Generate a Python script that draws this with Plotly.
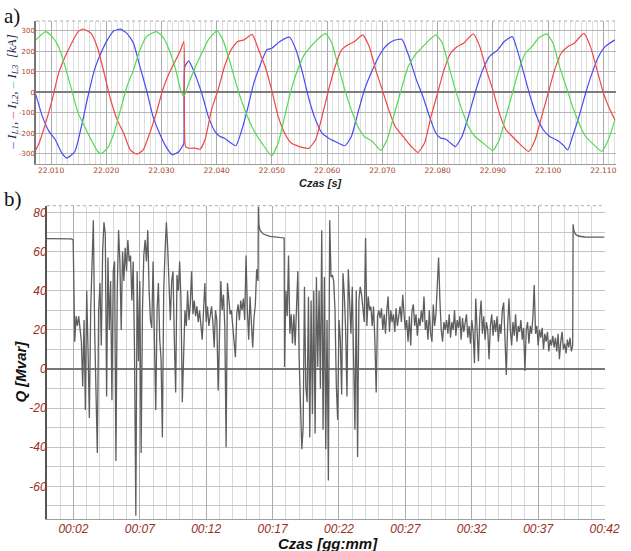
import numpy as np
import plotly.graph_objects as go

# ---------------- a) phase currents [kA] ----------------
t_l1 = [22.00726, 22.00843, 22.00961, 22.01078, 22.01197, 22.01285, 22.01432, 22.0155, 22.01668,
        22.01786, 22.01903, 22.02021, 22.02139, 22.02257, 22.02375, 22.02493, 22.0261, 22.02728,
        22.02846, 22.02964, 22.03081, 22.03199, 22.03317, 22.03376, 22.03405, 22.03423, 22.03494,
        22.03582, 22.03729, 22.03847, 22.03965, 22.04053, 22.04141, 22.04259, 22.04348, 22.04436,
        22.04554, 22.04671, 22.04789, 22.04907, 22.04995, 22.05143, 22.05319, 22.05437, 22.05555,
        22.05673, 22.0579, 22.05908, 22.06026, 22.06144, 22.0632, 22.06438, 22.06556, 22.06674,
        22.06821, 22.06968, 22.07086, 22.07204, 22.07351, 22.07468, 22.07616, 22.07734, 22.07851,
        22.07969, 22.08058, 22.08146, 22.08234, 22.08322, 22.0844, 22.08558, 22.08676, 22.08794,
        22.08941, 22.09088, 22.09206, 22.09353, 22.09442, 22.0956, 22.09677, 22.09795, 22.09913,
        22.10031, 22.10149, 22.10267, 22.10355, 22.10443, 22.10561, 22.10679, 22.10797, 22.10915,
        22.11033, 22.1121]
i_l1 = [-13, -118, -190, -232, -297, -321, -289, -167, -21,
        109, 190, 255, 299, 307, 287, 239, 125, 11,
        -118, -200, -265, -305, -289, -265, -250, 125, 153,
        105, -5, -118, -190, -215, -224, -248, -261, -200,
        -86, 44, 133, 206, 214, 247, 268, 206, 93,
        -37, -135, -200, -224, -240, -261, -216, -102, 11,
        109, 190, 231, 252, 258, 185, 60, -21, -118,
        -200, -224, -229, -248, -265, -216, -118, -5, 93,
        174, 206, 247, 271, 206, 93, -21, -118, -183,
        -216, -232, -256, -281, -216, -118, -5, 93, 174,
        222, 255]

t_l2 = [22.00726, 22.00784, 22.00902, 22.0102, 22.01138, 22.01256, 22.01373, 22.01491, 22.0158,
        22.01727, 22.01845, 22.01962, 22.0208, 22.02198, 22.02316, 22.02434, 22.02551, 22.02669,
        22.02787, 22.02905, 22.03022, 22.0314, 22.03258, 22.03346, 22.03405, 22.03435, 22.03494,
        22.03611, 22.037, 22.03788, 22.03906, 22.04024, 22.04141, 22.04259, 22.04377, 22.04495,
        22.04642, 22.0476, 22.04877, 22.04995, 22.05113, 22.05231, 22.05349, 22.05496, 22.05614,
        22.05673, 22.0579, 22.05908, 22.06026, 22.06144, 22.06261, 22.06379, 22.06497, 22.06644,
        22.06762, 22.0688, 22.06998, 22.07115, 22.07233, 22.07351, 22.07468, 22.07586, 22.07645,
        22.07763, 22.07881, 22.07999, 22.08116, 22.08234, 22.08352, 22.0847, 22.08646, 22.08764,
        22.08882, 22.09, 22.09118, 22.09236, 22.09353, 22.09471, 22.09648, 22.09766, 22.09884,
        22.10001, 22.10119, 22.10237, 22.10355, 22.10473, 22.1065, 22.10768, 22.10886, 22.11003,
        22.11121, 22.1121]
i_l2 = [-281, -248, -151, -37, 93, 174, 239, 295, 308,
        287, 214, 93, -37, -135, -200, -281, -302, -281,
        -200, -102, 11, 93, 157, 206, 247, -265, -273,
        -273, -278, -232, -86, 11, 125, 206, 247, 255,
        282, 206, 125, 11, -118, -200, -248, -265, -273,
        -273, -232, -118, 11, 125, 206, 231, 247, 279,
        222, 109, 11, -86, -167, -208, -248, -281, -294,
        -248, -118, -5, 109, 190, 222, 239, 284, 222,
        109, 11, -102, -183, -216, -248, -289, -232, -118,
        -5, 109, 190, 222, 239, 287, 222, 109, -5,
        -86, -135]

t_l3 = [22.00726, 22.00902, 22.0102, 22.01138, 22.01256, 22.01373, 22.01491, 22.01609, 22.01727,
        22.01845, 22.01903, 22.02021, 22.02139, 22.02257, 22.02375, 22.02493, 22.0261, 22.02728,
        22.02905, 22.03022, 22.0314, 22.03258, 22.03346, 22.03405, 22.03494, 22.03611, 22.03729,
        22.03847, 22.04006, 22.04112, 22.0423, 22.04348, 22.04465, 22.04583, 22.047, 22.04818,
        22.04995, 22.05113, 22.05231, 22.05349, 22.05466, 22.05584, 22.05702, 22.05849, 22.05967,
        22.06085, 22.06203, 22.0632, 22.06438, 22.06556, 22.06674, 22.06821, 22.06968, 22.07086,
        22.07204, 22.07322, 22.07468, 22.07616, 22.07734, 22.07851, 22.07969, 22.08087, 22.08205,
        22.08322, 22.0844, 22.08558, 22.08676, 22.08823, 22.09, 22.09118, 22.09236, 22.09353,
        22.09471, 22.09589, 22.09707, 22.09825, 22.09972, 22.1009, 22.10208, 22.10326, 22.10443,
        22.10561, 22.10679, 22.10797, 22.10974, 22.11092, 22.1121]
i_l3 = [255, 295, 271, 222, 125, 11, -102, -167, -232,
        -289, -300, -273, -200, -86, 28, 109, 206, 271,
        295, 271, 206, 109, 11, -21, 44, 122, 190,
        255, 299, 255, 157, 44, -54, -135, -200, -248,
        -310, -248, -118, 11, 109, 182, 222, 263, 287,
        239, 125, 11, -86, -167, -216, -240, -284, -232,
        -118, -5, 125, 190, 222, 255, 279, 239, 125,
        11, -86, -167, -216, -248, -284, -232, -118, -5,
        109, 190, 222, 263, 284, 239, 125, 28, -70,
        -151, -216, -248, -289, -232, -135]

i_ticks = [-300, -200, -100, 0, 100, 200, 300]
t_ticks = [22.01, 22.02, 22.03, 22.04, 22.05, 22.06, 22.07, 22.08, 22.09, 22.10, 22.11]

# ---------------- b) reactive power Q [Mvar] vs time [min] ----------------
# steady state before the event
q_pre_t = [0.0, 1.5, 1.85, 1.98]
q_pre_v = [66.7, 66.7, 66.5, 66.0]

# first disturbed interval, sampled every 0.1 min from 2.0 min
q_a_start = 2.0
q_a_v = [60, 14, 27, 22, 27, 18, 14, -9, 25, -21,
         40, 10, -25, 30, 52, 76, 20, -5, -43, 30,
         44, 12, 60, 75, 69, -14, 57, 20, 45, -16,
         50, 55, -47, 40, 71, 55, 20, 60, 45, 62,
         50, 66, 55, 58, 35, 55, 10, -75, 50, 4,
         45, -43, 30, 58, 66, 55, 71, 40, 25, 21,
         55, 15, -21, 30, 44, 15, 5, -35, 40, 60,
         75, 62, 40, 25, 45, 50, 15, -12, 48, 40,
         55, 35, -17, 5, 30, 22, 40, 25, 33, 50,
         28, 35, 27, 32, 24, 30, 22, 15, 30, 44,
         24, 32, 22, 28, 32, 24, 11, 30, 25, -11,
         20, 45, 30, 38, 22, -40, 44, 35, 28, 30,
         22, 15, 6, 28, 33, 25, 35, 30, 36, 25,
         58, 30, 15, 37, 25, 11, 26, 33, 51, 45]

# short return to steady state
q_mid_t = [15.93, 15.96, 16.05, 16.3, 16.8, 17.5, 17.87]
q_mid_v = [83.0, 74.0, 71.0, 69.0, 67.8, 67.3, 67.0]

# second disturbed interval, sampled every 0.1 min from 17.9 min
q_b_start = 17.9
q_b_v = [1, 40, 27, 58, 18, 28, 13, 28, 12, 29,
         50, 5, -21, -41, -30, 42, -9, -17, 37, -35,
         35, -23, 40, -33, 47, 1, 40, -10, 71, -31,
         47, -41, 25, -57, 76, 47, 48, 45, 30, -9,
         -26, 25, 15, -13, 49, 38, 20, -14, 51, 30,
         18, 42, 10, -31, 40, -45, 35, 42, 38, 30,
         24, 67, 22, 37, 30, 32, 22, 32, 15, -12,
         27, 30, 26, 31, 20, 28, 18, 30, 37, 19,
         30, 24, 28, 19, 31, 22, 27, 32, 24, 38,
         28, 20, 25, 14, 27, 12, 30, 33, 22, 28,
         17, 26, 22, 30, 24, 37, 20, 25, 15, 30,
         18, 14, 33, 22, 28, 40, 57, 35, 20, 14,
         24, 20, 25, 18, 28, 16, 24, 20, 30, 17,
         25, 21, 27, 15, 26, 19, 24, 28, 16, 22,
         13, 25, 19, 3, 36, 20, 4, 26, 35, 18,
         27, 15, 24, 20, 5, 22, 28, 17, 25, 19,
         27, 14, 23, 18, 30, 34, 16, -3, 22, 36,
         20, 12, 24, 17, 28, 14, 22, 19, 25, 15,
         21, -1, 20, 24, 13, 22, 18, 26, 43, 18,
         22, 12, 20, 16, 21, 10, 18, 14, 19, 9,
         15, 12, 17, 11, 16, 9, 18, 5, 14, 19,
         10, 13, 8, 15, 11, 16, 9, 12]

# steady state after the event
q_post_t = [39.63, 39.68, 39.8, 40.0, 40.5, 42.0]
q_post_v = [74.0, 71.0, 69.0, 68.0, 67.5, 67.4]

q_ticks = [-60, -40, -20, 0, 20, 40, 60, 80]
min_ticks = [2, 7, 12, 17, 22, 27, 32, 37, 42]
min_labels = ["00:02", "00:07", "00:12", "00:17", "00:22", "00:27", "00:32", "00:37", "00:42"]

# ---------------- assemble ----------------
q_a_t = list(np.round(q_a_start + 0.1 * np.arange(len(q_a_v)), 2))
q_b_t = list(np.round(q_b_start + 0.1 * np.arange(len(q_b_v)), 2))
q_t = q_pre_t + q_a_t + q_mid_t + q_b_t + q_post_t
q_v = q_pre_v + q_a_v + q_mid_v + q_b_v + q_post_v

W, H = 631, 551


def px(x):
    return x / W


def py(y):
    return 1 - y / H


fig = go.Figure()
phase_style = dict(width=1.2, shape="spline", smoothing=0.5)
fig.add_trace(go.Scatter(x=t_l1, y=i_l1, mode="lines", xaxis="x", yaxis="y",
                         line=dict(color="#4a4af2", **phase_style), hoverinfo="skip"))
fig.add_trace(go.Scatter(x=t_l2, y=i_l2, mode="lines", xaxis="x", yaxis="y",
                         line=dict(color="#f04646", **phase_style), hoverinfo="skip"))
fig.add_trace(go.Scatter(x=t_l3, y=i_l3, mode="lines", xaxis="x", yaxis="y",
                         line=dict(color="#4fdc4f", **phase_style), hoverinfo="skip"))
fig.add_trace(go.Scatter(x=q_t, y=q_v, mode="lines", xaxis="x2", yaxis="y2",
                         line=dict(color="#5e5e5e", width=1.3), hoverinfo="skip"))

tick_red = "#a8442a"
q_red = "#9a2e22"

fig.update_layout(
    width=W, height=H,
    margin=dict(l=0, r=0, t=0, b=0),
    paper_bgcolor="white", plot_bgcolor="white",
    showlegend=False,
    xaxis=dict(
        domain=[px(37), 1.0], range=[22.0073, 22.1123], anchor="y",
        tickmode="array", tickvals=t_ticks, ticktext=[f"{v:.3f}" for v in t_ticks],
        tickfont=dict(family="DejaVu Sans", size=7.5, color=tick_red),
        showgrid=True, gridcolor="#a9a9a9", gridwidth=1,
        minor=dict(tickmode="linear", tick0=22.0, dtick=0.001, showgrid=True,
                   gridcolor="#dedede", gridwidth=1),
        showline=True, linecolor="#9a9a9a", linewidth=1,
        zeroline=False, ticks="", ticklen=0, ticklabelstandoff=-1,
        ticklabeloverflow="allow",
    ),
    yaxis=dict(
        domain=[py(164), py(21)], range=[-350, 347], anchor="x",
        tickmode="array", tickvals=i_ticks, ticktext=[str(v) for v in i_ticks],
        tickfont=dict(family="DejaVu Sans", size=7, color=tick_red),
        showgrid=True, gridcolor="#b5b5b5", gridwidth=1.3,
        zeroline=True, zerolinecolor="#7c7c7c", zerolinewidth=2,
        showline=True, linecolor="#777777", linewidth=1.5,
        ticks="", ticklen=0, ticklabelstandoff=-2,
    ),
    xaxis2=dict(
        domain=[px(48), px(619.3)], range=[0, 42], anchor="y2",
        tickmode="array", tickvals=min_ticks, ticktext=[f"<i>{s}</i>" for s in min_labels],
        tickfont=dict(family="Liberation Sans", size=12, color=q_red),
        showgrid=True, gridcolor="#ababab", gridwidth=1.3,
        minor=dict(tickmode="linear", tick0=0, dtick=1, showgrid=True,
                   gridcolor="#d8d8d8", gridwidth=1),
        showline=True, linecolor="#a0a0a0", linewidth=1,
        zeroline=False, ticks="", ticklen=0, ticklabelstandoff=-1,
        ticklabeloverflow="allow",
    ),
    yaxis2=dict(
        domain=[py(519), py(205.7)], range=[-76.7, 83.5], anchor="x2",
        tickmode="array", tickvals=q_ticks, ticktext=[f"<i>{v}</i>" for v in q_ticks],
        tickfont=dict(family="Liberation Sans", size=12, color=q_red),
        showgrid=True, gridcolor="#c2c2c2", gridwidth=1.3,
        minor=dict(tickmode="linear", tick0=0, dtick=10, showgrid=True,
                   gridcolor="#c8c8c8", gridwidth=1.3),
        zeroline=True, zerolinecolor="#767676", zerolinewidth=1.6,
        showline=True, linecolor="#555555", linewidth=1.5,
        ticks="", ticklen=0, ticklabelstandoff=-4,
    ),
)

# dotted upper frame edges
fig.add_shape(type="line", xref="paper", yref="paper", x0=px(37), x1=1.0, y0=py(21), y1=py(21),
              line=dict(color="#aaaaaa", width=1, dash="dot"))
fig.add_shape(type="line", xref="paper", yref="paper", x0=px(48), x1=px(619.3), y0=py(205.7), y1=py(205.7),
              line=dict(color="#aaaaaa", width=1, dash="dot"))

# panel letters
fig.add_annotation(text="a)", x=px(2), y=py(2), xref="paper", yref="paper", xanchor="left", yanchor="top",
                   showarrow=False, font=dict(family="Liberation Serif", size=21, color="#111111"))
fig.add_annotation(text="b)", x=px(2), y=py(185), xref="paper", yref="paper", xanchor="left", yanchor="top",
                   showarrow=False, font=dict(family="Liberation Serif", size=21, color="#111111"))

# axis titles
ylab_a = ("<span style='color:#3b3bf0'>–</span> <i>I</i><sub><i>L1</i></sub>, "
          "<span style='color:#f03c3c'>–</span> <i>I</i><sub><i>L2</i></sub>, "
          "<span style='color:#3ccf3c'>–</span> <i>I</i><sub><i>L3</i></sub>  <i>[kA]</i>")
centred = dict(xref="paper", yref="paper", xanchor="center", yanchor="middle", showarrow=False)
fig.add_annotation(text=ylab_a, x=px(13), y=py(92), textangle=-90,
                   font=dict(family="Liberation Serif", size=13, color="#1c1c4a"), **centred)
fig.add_annotation(text="<b><i>Czas [s]</i></b>", x=px(328), y=py(183),
                   font=dict(family="Liberation Sans", size=11, color="#222222"), **centred)
fig.add_annotation(text="<b><i>Q [Mvar]</i></b>", x=px(20), y=py(372), textangle=-90,
                   font=dict(family="Liberation Sans", size=15, color="#111111"), **centred)
fig.add_annotation(text="<b><i>Czas [gg:mm]</i></b>", x=px(336), y=py(543),
                   font=dict(family="Liberation Sans", size=15, color="#111111"), **centred)

fig.write_html("out.html")
